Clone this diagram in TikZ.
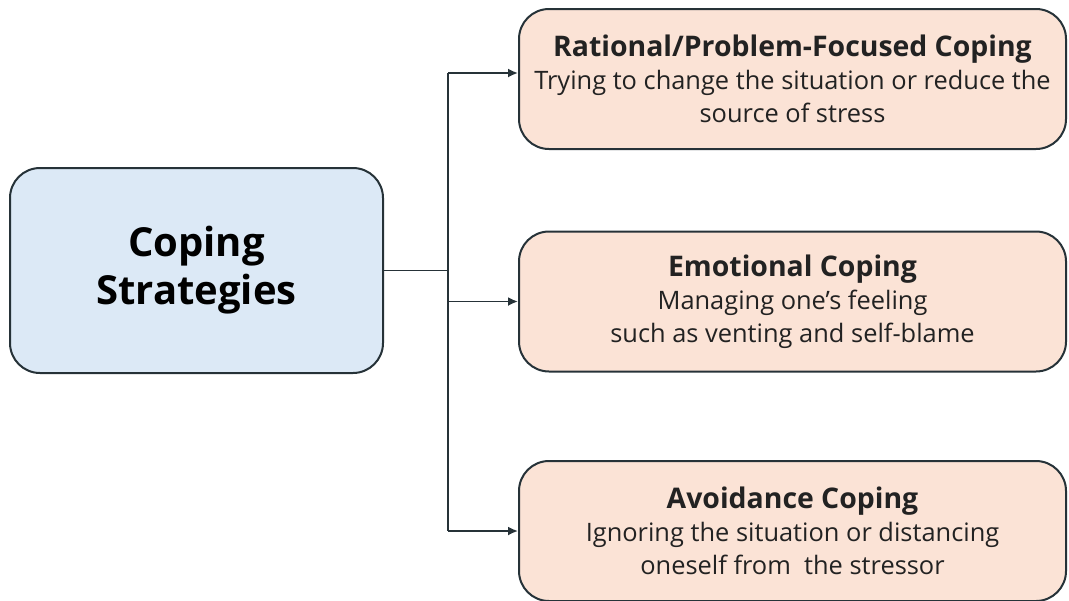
\documentclass[tikz,border=0pt]{standalone}
\usepackage{fontspec}
\setmainfont{Open Sans}
\usepackage{tikz}
\usetikzlibrary{arrows.meta}
\definecolor{rootblue}{HTML}{DCE9F6}
\definecolor{leafpeach}{HTML}{FBE3D6}
\definecolor{edgegray}{HTML}{263238}
\definecolor{textgray}{HTML}{222222}
\tikzstyle{box}=[draw=edgegray, line width=1pt, rounded corners=15pt, align=center, inner sep=0]
\tikzstyle{rootbox}=[box, fill=rootblue, minimum width=186.5pt, minimum height=102.5pt,
                     font=\fontsize{20}{24}\selectfont\bfseries]
\tikzstyle{leafbox}=[box, fill=leafpeach, minimum width=273.5pt, minimum height=70pt,
                     text=textgray, font=\fontsize{12.7}{16.5}\selectfont]
\tikzstyle{fork arrow}=[-{Latex[length=5pt, width=4.5pt]}]
\newcommand{\leaftitle}[1]{{\fontsize{14.2}{16.5}\selectfont\bfseries #1}}

\begin{document}
\begin{tikzpicture}[x=0.5pt, y=-0.5pt, line width=0.9pt, draw=edgegray]
        \useasboundingbox (0, 0) rectangle (1069, 600);
        \node[rootbox] (coping) at (196.5, 270.5) {Coping\\Strategies};
        \node[leafbox] (rational) at (792.5, 79) {\leaftitle{Rational/Problem-Focused Coping}\\
            Trying to change the situation or reduce the\\source of stress};
        \node[leafbox] (emotional) at (792.5, 301.5) {\leaftitle{Emotional Coping}\\
            Managing one's feeling\\such as venting and self-blame};
        \node[leafbox] (avoid) at (792.5, 531) {\leaftitle{Avoidance Coping}\\
            Ignoring the situation or distancing\\oneself from\ \ the stressor};
        % Fork that splits into the three strategies.
        \coordinate (fork) at (448, 265);
        \draw (coping.east) -- (coping.east -| fork);
        \draw ([yshift=3pt]rational.west -| fork) -- (avoid.west -| fork);
        \draw[fork arrow] ([yshift=3pt]rational.west -| fork) -- ([yshift=3pt]rational.west);
        \foreach \leaf in {emotional, avoid}
            \draw[fork arrow] (\leaf.west -| fork) -- (\leaf.west);
    \end{tikzpicture}
\end{document}
